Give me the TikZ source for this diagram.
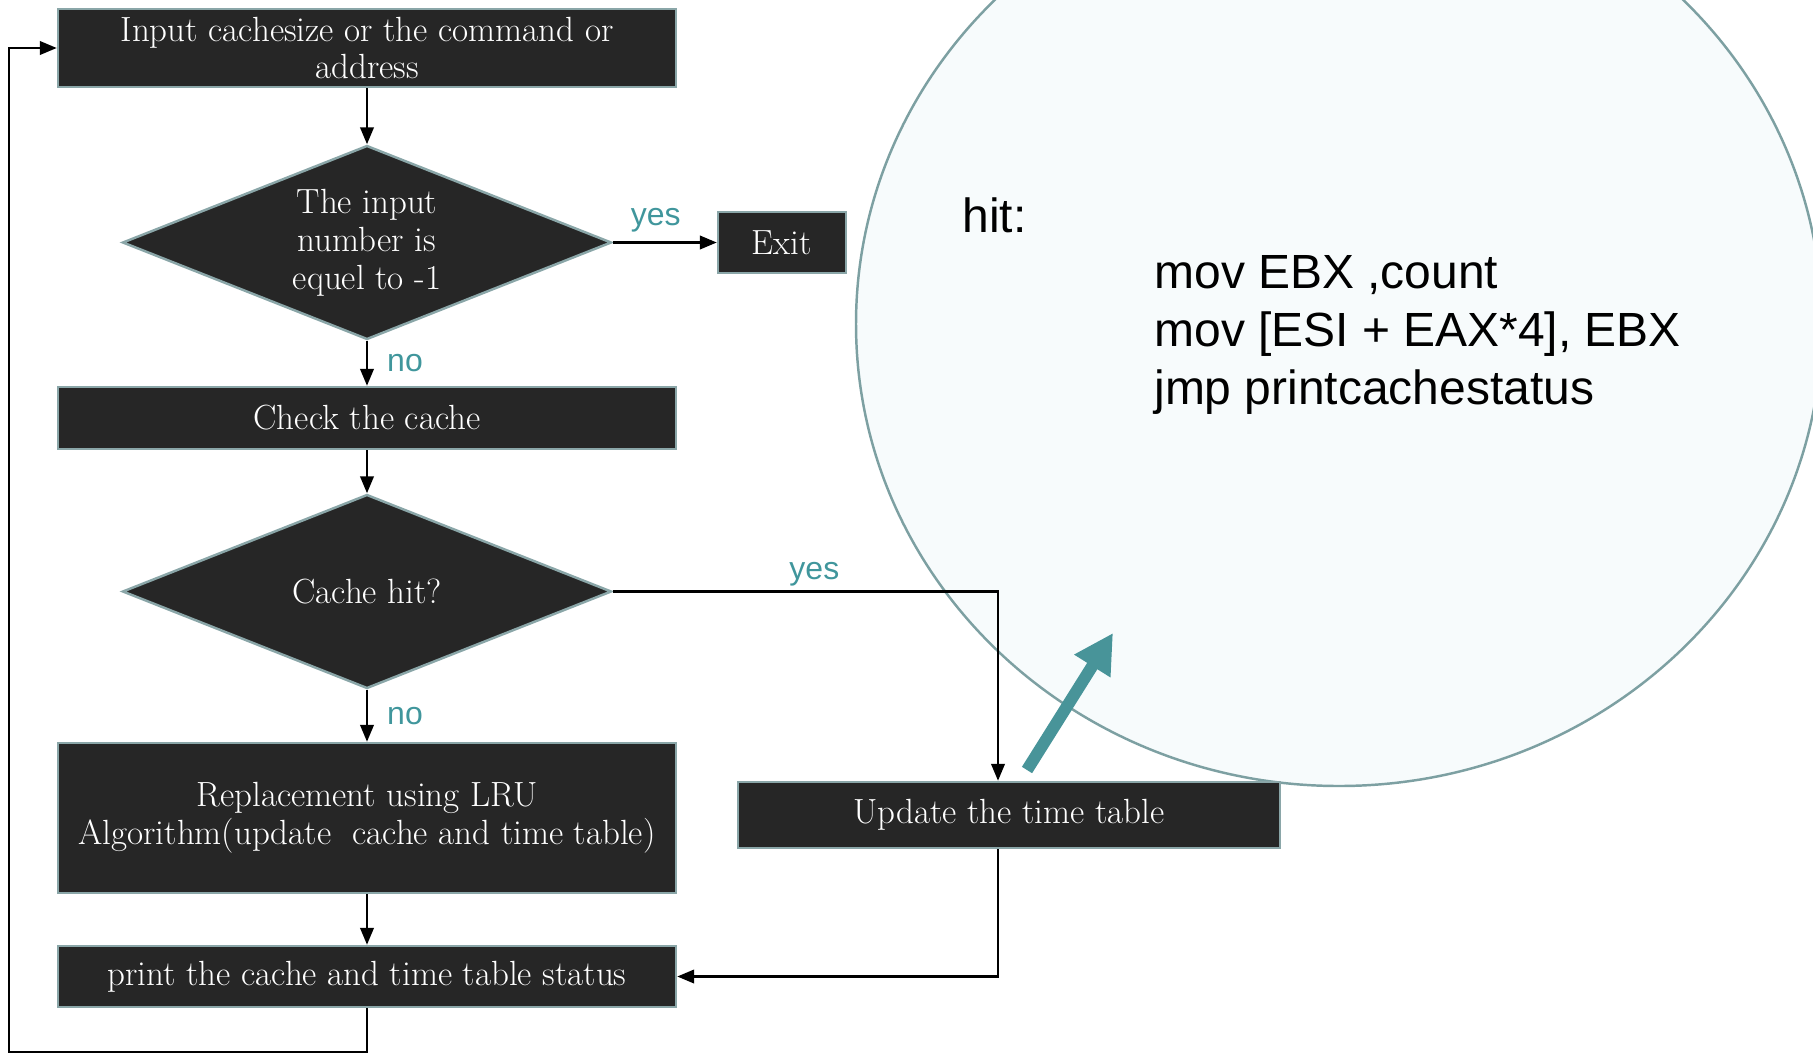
\documentclass[tikz,border=0pt]{standalone}
\usepackage{fontspec}
\usepackage{tikz}
\usetikzlibrary{arrows.meta,positioning,calc,shapes.geometric}

\newfontfamily\asmfont{Liberation Sans}
\definecolor{boxfill}{RGB}{38,38,38}
\definecolor{boxedge}{RGB}{138,166,168}
\definecolor{ringedge}{RGB}{125,160,162}
\definecolor{ringfill}{RGB}{247,251,252}
\definecolor{tealtxt}{RGB}{64,150,156}
\definecolor{tealarrow}{RGB}{72,148,153}

\begin{document}
\begin{tikzpicture}[
			blk/.style={rectangle, fill=boxfill, draw=boxedge, line width=1.4pt, text=white, align=center,
				inner sep=0pt, minimum width=12.36cm, font=\fontsize{19.9}{21.6}\selectfont},
			dec/.style={diamond, shape aspect=2.5, fill=boxfill, draw=boxedge, line width=1.4pt, text=white,
				align=center, inner sep=0pt, minimum width=9.78cm, minimum height=3.88cm, font=\fontsize{19.9}{21.6}\selectfont},
			flow/.style={-{Triangle[length=0.34cm,width=0.27cm]}, line width=1.4pt, black},
			lbl/.style={text=tealtxt, inner sep=0pt, font=\asmfont\fontsize{18.2}{20}\selectfont},
			asm/.style={inner sep=0pt, align=left, font=\asmfont\fontsize{27.3}{33}\selectfont}]
		\useasboundingbox (0,0) rectangle (36.26,-21.10);
		\clip (0,0) rectangle (36.26,-21.10);
		% note bubble behind the flow chart
		\path[fill=ringfill, draw=ringedge, line width=1.4pt] (26.78,-6.48) ellipse [x radius=9.66cm, y radius=9.24cm];
		\path 	(19.24,-4.30) 	node (hitlbl) [asm, anchor=west] {hit:}
		        (23.08,-6.69) 	node (code) [asm, anchor=west] {mov EBX ,count\\mov [ESI + EAX*4], EBX\\jmp printcachestatus};
		\path 	(7.34,-0.96) 	node (inp) [blk, minimum height=1.56cm] {Input cachesize or the command or\\address}
		        (7.34,-4.85) 	node (neg) [dec] {The input\\number is\\equel to -1}
		        (15.64,-4.85) 	node (quit) [blk, minimum width=2.56cm, minimum height=1.22cm] {Exit}
		        (7.34,-8.36) 	node (chk) [blk, minimum height=1.24cm] {Check the cache}
		        (7.34,-11.83) 	node (hit) [dec] {Cache hit?}
		        (7.34,-16.36) 	node (lru) [blk, minimum height=3.0cm] {Replacement using LRU\\Algorithm(update\ \ cache and time table)}
		        (20.18,-16.30) 	node (upd) [blk, minimum width=10.84cm, minimum height=1.32cm] {Update the time table}
		        (7.34,-19.53) 	node (prt) [blk, minimum height=1.22cm] {print the cache and time table status};
		\coordinate (turn) at (19.96,-11.83);
		\coordinate (back) at (0.18,-21.04);
		\draw [flow] (inp) -- (neg);
		\draw [flow] (neg) -- node [lbl, above=0.19cm, xshift=-0.18cm] {yes} (quit);
		\draw [flow] (neg) -- node [lbl, right=0.38cm] {no} (chk);
		\draw [flow] (chk) -- (hit);
		\draw [flow] (hit) -- node [lbl, right=0.38cm] {no} (lru);
		\draw [flow] (lru) -- (prt);
		\draw [flow] (hit.east) -- node [lbl, above=0.08cm, xshift=0.18cm] {yes} (turn) -- (turn |- upd.north);
		\draw [flow] (turn |- upd.south) |- (prt.east);
		\draw [flow] (prt.south) |- (back) |- (inp.west);
		% teal pointer into the bubble
		\coordinate (tail) at (20.54,-15.40);
		\coordinate (tip) at (22.26,-12.66);
		\draw [tealarrow, line width=0.24cm, -{Triangle[length=0.78cm,width=0.8cm]}] (tail) -- (tip);
	\end{tikzpicture}
\end{document}
